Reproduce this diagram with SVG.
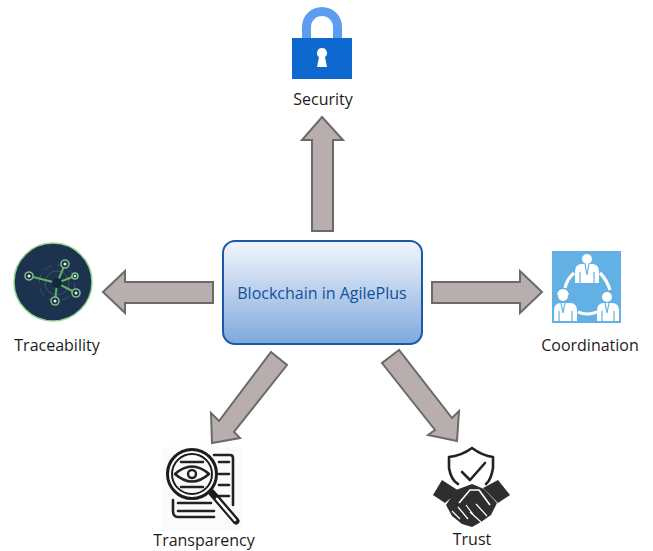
<svg xmlns="http://www.w3.org/2000/svg" width="653" height="551" viewBox="0 0 653 551">
<style>
.lbl{font-family:"Open Sans","Noto Sans","DejaVu Sans",sans-serif;font-size:16px;fill:#1c1c1c;text-anchor:middle}
.arrow{fill:#b8aeae;stroke:#6a6a6a;stroke-width:2;stroke-linejoin:miter}
.g{stroke:#62b35a;fill:none}
.n{fill:#1a3050;stroke:#7cc07a;stroke-width:1.6}
.d{fill:#e8f0e8}
.w{fill:#fff}
.wl{fill:none;stroke:#fff;stroke-width:3.2}
.k{fill:none;stroke:#222;stroke-width:2.6;stroke-linecap:round;stroke-linejoin:round}
.h{fill:#2e2e2e}
</style>
<defs>
<linearGradient id="boxFill" x1="0" y1="0" x2="0" y2="1">
<stop offset="0" stop-color="#f3f6fc"/><stop offset="1" stop-color="#7ea8dc"/>
</linearGradient>
<filter id="soft" x="-5%" y="-5%" width="110%" height="110%"><feGaussianBlur stdDeviation="0.35"/></filter>
</defs>
<rect width="653" height="551" fill="#fff"/>
<g id="connectors">
<polygon class="arrow" points="322,117 343,140 333,140 333,231 312,231 312,140 302,140"/>
<polygon class="arrow" points="103,292 125,271 125,282 213,282 213,303 125,303 125,313"/>
<polygon class="arrow" points="542,292 520,271 520,282 432,282 432,303 520,303 520,313"/>
<polygon class="arrow" points="271,352 287,365 234,432 240,438 212,443 211,413 219,421"/>
<polygon class="arrow" points="399,350 382,363 435,430 428,435 457,441 459,411 452,418"/>
</g>
<g id="center">
<rect x="223" y="241" width="199" height="103" rx="12" fill="url(#boxFill)" stroke="#1a5aa8" stroke-width="2"/>
<text x="322" y="298.5" text-anchor="middle" font-family="'Open Sans','Noto Sans',sans-serif" font-size="16" fill="#12509c">Blockchain in AgilePlus</text>
</g>
<g id="security">
<g filter="url(#soft)">
<path d="M302,38V27A20,20 0 0 1 342,27V38H333V27A11,11 0 0 0 311,27V38Z" fill="#5b9df0"/>
<rect x="292" y="38" width="60" height="41" fill="#0f69cf"/>
<path d="M322,48a5,5 0 0 1 3,9l2,10h-10l2,-10a5,5 0 0 1 3,-9Z" class="w"/>
</g>
<text class="lbl" x="323" y="105">Security</text>
</g>
<g id="traceability">
<g filter="url(#soft)">
<circle cx="53" cy="282" r="39" fill="#1a3050" stroke="#8fd58a" stroke-width="1.5"/>
<circle cx="57" cy="283" r="12" fill="none" stroke="#3c5a62" stroke-width="1"/>
<circle cx="57" cy="283" r="18" fill="none" stroke="#3c5a62" stroke-width="1" stroke-dasharray="9 5"/>
<g class="g" stroke-width="2">
<path d="M29,276L57,283M65,264L57,283M57,283L75,276M57,283L76,293M57,283L55,301"/>
</g>
<circle cx="57" cy="283" r="5" fill="#16263f"/>
<circle class="n" cx="29" cy="276" r="4"/><circle class="d" cx="29" cy="276" r="1.5"/>
<circle class="n" cx="65" cy="264" r="4"/><circle class="d" cx="65" cy="264" r="1.5"/>
<circle class="n" cx="75" cy="276" r="3"/><circle class="d" cx="75" cy="276" r="1.2"/>
<circle class="n" cx="76" cy="293" r="4"/><circle class="d" cx="76" cy="293" r="1.5"/>
<circle class="n" cx="55" cy="301" r="4"/><circle class="d" cx="55" cy="301" r="1.5"/>
</g>
<text class="lbl" x="57" y="351">Traceability</text>
</g>
<g id="coordination">
<g filter="url(#soft)">
<rect x="552" y="251" width="69" height="72" fill="#64b0e4"/>
<circle class="w" cx="587" cy="259" r="5"/>
<path class="w" d="M575,283V271Q575,265 581,264H593Q599,265 599,271V283Z"/>
<circle class="w" cx="563" cy="296" r="5"/>
<path class="w" d="M554,321V310Q554,304 560,303H571Q577,304 577,310V321Z"/>
<path class="w" d="M557,295Q558,289 563,289Q568,289 569,295Z"/>
<circle class="w" cx="607" cy="297" r="5"/>
<path class="w" d="M597,321V310Q597,304 603,303H613Q619,304 619,310V321Z"/>
<path d="M585,264l2,11l2,-11M561,303l2,10l2,-10M605,303l2,10l2,-10M580,272V283M594,272V283M559,311V321M572,311V321M602,311V321M614,311V321" fill="none" stroke="#64b0e4" stroke-width="1.2"/>
<path class="wl" d="M574,273Q567,279 565,288M600,273Q607,280 610,290M578,312Q587,316 597,312"/>
</g>
<text class="lbl" x="590" y="351">Coordination</text>
</g>
<g id="transparency">
<g filter="url(#soft)">
<rect x="163" y="447" width="80" height="83" fill="#fbfbfb"/>
<path class="k" d="M214,455H230Q233,455 233,458V505M173,500V511Q173,517 178,517H214"/>
<path class="k" d="M219,462H229M219,474H229M219,485H229M215,496H229M178,503H211M178,511H214"/>
<circle cx="192" cy="474" r="24.5" fill="#fbfbfb" stroke="#1c1c1c" stroke-width="3"/>
<circle cx="192" cy="474" r="20" fill="none" stroke="#1c1c1c" stroke-width="2"/>
<path class="k" d="M181,462H203M181,487H203"/>
<path class="k" d="M175,474Q192,459 209,474Q192,489 175,474Z"/>
<circle cx="192" cy="474" r="4" fill="none" stroke="#222" stroke-width="2.4"/>
<path d="M212,493L236,521" stroke="#1c1c1c" stroke-width="7" stroke-linecap="round"/>
<path d="M217,499L235,520" stroke="#fbfbfb" stroke-width="2.6" stroke-linecap="round"/>
</g>
<text class="lbl" x="204" y="546">Transparency</text>
</g>
<g id="trust">
<g filter="url(#soft)">
<path class="k" d="M472,448Q461,456 449,457V468Q451,480 458,484M472,448Q483,456 493,457V468Q491,480 486,484"/>
<path class="k" d="M462,472L470,480L485,463" stroke-width="3"/>
<polygon class="h" points="442,480 459,491 445,503 433,495"/>
<polygon class="h" points="498,480 510,495 498,503 483,488"/>
<path class="h" d="M456,490L472,484L484,489L497,503L491,515L481,522L472,527L462,524L452,516L446,505Z"/>
<path d="M459,503L470,490L479,490L490,505" fill="none" stroke="#fff" stroke-width="1.6"/>
<path d="M452,511L460,519M458,507L468,519M466,505L475,517M476,504L487,516M470,512L481,522" stroke="#fff" stroke-width="1.2"/>
</g>
<text class="lbl" x="472" y="545">Trust</text>
</g>
</svg>
